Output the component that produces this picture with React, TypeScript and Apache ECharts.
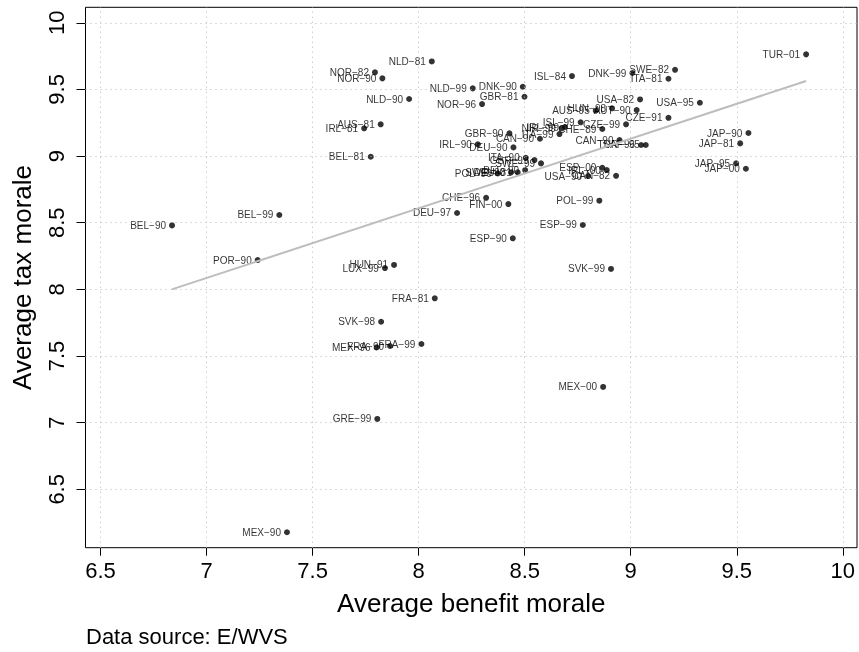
import React, { useEffect, useRef } from "react";
import * as echarts from "echarts";

const names = [
  "TUR−01", "SWE−82", "DNK−99", "ITA−81", "NLD−81", "NOR−82", "NOR−90", "ISL−84",
  "NLD−99", "DNK−90", "GBR−81", "NLD−90", "NOR−96", "USA−82", "USA−95", "HUN−98",
  "AUS−95", "AUT−90", "AUS−81", "IRL−81", "ISL−99", "CZE−99", "CZE−91", "NIR−99",
  "IRL−99", "CHE−89", "GBR−90", "CAN−90", "ITA−99", "CAN−90", "TUR−96", "SAF−95",
  "JAP−90", "JAP−81", "IRL−90", "DEU−90", "BEL−81", "ITA−90", "GBR−99", "SWE−99",
  "POL−90", "SWE−90", "DEU−81", "BEL−90", "ESP−00", "IRL−00", "USA−90", "CAN−82",
  "JAP−95", "JAP−00", "DEU−97", "CHE−96", "FIN−00", "POL−99", "BEL−99", "BEL−90",
  "ESP−99", "ESP−90", "POR−90", "HUN−91", "LUX−99", "SVK−99", "FRA−81", "SVK−98",
  "MEX−96", "FRA−90", "FRA−99", "MEX−00", "GRE−99", "MEX−90",
];

const benefitMorale = [
  9.827, 9.209, 9.008, 9.178, 8.062, 7.794, 7.829, 8.723,
  8.255, 8.491, 8.499, 7.955, 8.299, 9.044, 9.326, 8.912,
  8.835, 9.028, 7.821, 7.743, 8.764, 8.978, 9.178, 8.675,
  8.690, 8.866, 8.428, 8.572, 8.664, 8.947, 9.049, 9.071,
  9.555, 9.516, 8.279, 8.447, 7.774, 8.505, 8.546, 8.577,
  8.373, 8.436, 8.467, 8.502, 8.866, 8.887, 8.799, 8.931,
  9.497, 9.543, 8.181, 8.318, 8.423, 8.852, 7.343, 6.837,
  8.774, 8.444, 7.241, 7.884, 7.841, 8.907, 8.076, 7.823,
  7.802, 7.865, 8.013, 8.870, 7.805, 7.379,
];

const taxMorale = [
  9.763, 9.647, 9.623, 9.580, 9.710, 9.628, 9.583, 9.600,
  9.508, 9.520, 9.445, 9.428, 9.390, 9.425, 9.400, 9.358,
  9.340, 9.345, 9.238, 9.208, 9.253, 9.238, 9.287, 9.208,
  9.218, 9.203, 9.170, 9.130, 9.165, 9.120, 9.083, 9.083,
  9.173, 9.095, 9.088, 9.065, 8.995, 8.987, 8.970, 8.945,
  8.870, 8.878, 8.878, 8.895, 8.912, 8.895, 8.850, 8.852,
  8.945, 8.905, 8.573, 8.687, 8.640, 8.665, 8.558, 8.480,
  8.483, 8.383, 8.220, 8.183, 8.160, 8.153, 7.933, 7.757,
  7.565, 7.575, 7.590, 7.268, 7.028, 6.178,
];

const fitX = [6.836, 9.827];
const fitY = [8.0, 9.563];

const xTicks = [6.5, 7, 7.5, 8, 8.5, 9, 9.5, 10];
const yTicks = [6.5, 7, 7.5, 8, 8.5, 9, 9.5, 10];

const FONT = "'Liberation Sans', Arial, Helvetica, sans-serif";

export default function App() {
  const ref = useRef<HTMLDivElement>(null);

  useEffect(() => {
    if (!ref.current) return;
    const chart = echarts.init(ref.current, undefined, { renderer: "svg" });
    const points = names.map((n, i) => [benefitMorale[i], taxMorale[i], n]);
    const gridLineData = [
      ...xTicks.map((v) => ({ xAxis: v })),
      ...yTicks.map((v) => ({ yAxis: v })),
    ];
    chart.setOption({
      animation: false,
      textStyle: { fontFamily: FONT },
      grid: {
        left: 85.5,
        top: 7.3,
        right: 2,
        bottom: 104.3,
        show: true,
        borderColor: "#000",
        borderWidth: 1,
        backgroundColor: "transparent",
      },
      xAxis: {
        type: "value",
        min: 6.429,
        max: 10.067,
        axisLine: { show: false },
        axisTick: {
          show: true,
          customValues: xTicks,
          length: 8,
          lineStyle: { color: "#000", width: 1 },
        },
        axisLabel: {
          customValues: xTicks,
          fontSize: 22,
          color: "#000",
          margin: 12,
          fontFamily: FONT,
        },
        splitLine: { show: false },
        name: "Average benefit morale",
        nameLocation: "middle",
        nameGap: 42,
        nameTextStyle: { fontSize: 26, color: "#000", fontFamily: FONT },
      },
      yAxis: {
        type: "value",
        min: 6.062,
        max: 10.116,
        axisLine: { show: false },
        axisTick: {
          show: true,
          customValues: yTicks,
          length: 9,
          lineStyle: { color: "#000", width: 1 },
        },
        axisLabel: {
          customValues: yTicks,
          fontSize: 22,
          color: "#000",
          margin: 18,
          rotate: 90,
          fontFamily: FONT,
        },
        splitLine: { show: false },
        name: "Average tax morale",
        nameLocation: "middle",
        nameGap: 51,
        nameRotate: 90,
        nameTextStyle: { fontSize: 26, color: "#000", fontFamily: FONT },
      },
      series: [
        {
          type: "line",
          data: [],
          z: 1,
          markLine: {
            silent: true,
            symbol: "none",
            label: { show: false },
            lineStyle: { type: [1, 4], color: "#b8b8b8", width: 1 },
            data: gridLineData,
          },
        },
        {
          type: "scatter",
          data: points,
          symbol: "circle",
          symbolSize: 6,
          z: 2,
          itemStyle: { color: "#000" },
          label: {
            show: true,
            position: "left",
            distance: 3,
            formatter: (p: any) => p.data[2],
            fontSize: 10,
            color: "#000",
            fontFamily: FONT,
          },
        },
        {
          type: "line",
          data: fitX.map((x, i) => [x, fitY[i]]),
          symbol: "none",
          z: 3,
          lineStyle: { color: "#bdbdbd", width: 2 },
        },
      ],
      graphic: [
        {
          type: "text",
          left: 86,
          top: 625,
          style: {
            text: "Data source: E/WVS",
            fontSize: 22,
            fill: "#000",
            fontFamily: FONT,
          },
        },
      ],
    });
    return () => chart.dispose();
  }, []);

  return (
    <div
      ref={ref}
      style={{ position: "fixed", left: 0, top: 0, width: 859, height: 652 }}
    />
  );
}
